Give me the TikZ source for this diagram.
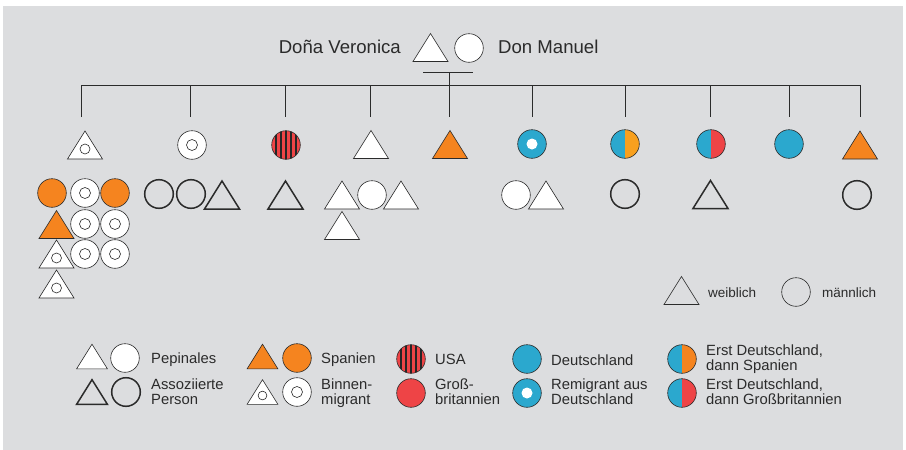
\documentclass[tikz,border=0pt]{standalone}
\usepackage{fontspec}
\setmainfont{Liberation Sans}
\definecolor{bg}{HTML}{DCDDDF}
\definecolor{ink}{HTML}{2B2B2B}
\definecolor{org}{HTML}{F5841F}
\definecolor{orgl}{HTML}{F8A01E}
\definecolor{blu}{HTML}{2BA8CE}
\definecolor{rd}{HTML}{EE4446}
\tikzset{
  every node/.style={inner sep=0pt, text=ink},
  conn/.style={draw=ink, line width=0.9pt},
  pep/.style={draw=ink, line width=0.6pt, fill=white},
  assoc/.style={draw=ink, line width=1.5pt},
  spain/.style={draw=ink, line width=0.6pt, fill=org},
  lbl/.style={font=\fontsize{14.8}{14.5}\selectfont, anchor=base west, align=left},
  small/.style={scale=0.88},
  tri/.pic={\path[pic actions] (-17.5,14) -- (17.5,14) -- (0,-14) -- cycle;},
  circ/.pic={\path[pic actions] (0,0) circle[radius=14.3pt];},
  tribin/.pic={\path[draw=ink, line width=0.6pt, fill=white] (-17.5,14) -- (17.5,14) -- (0,-14) -- cycle;
               \path[draw=ink, line width=0.6pt] (0,4) circle[radius=5pt];},
  donut/.pic={\path[draw=ink, line width=0.6pt, fill=white] (0,0) circle[radius=14.3pt];
              \path[draw=ink, line width=0.6pt] (0,0) circle[radius=5.5pt];},
  usa/.pic={\fill[rd] (0,0) circle[radius=14.3pt];
            \begin{scope}
              \clip (0,0) circle[radius=14.3pt];
              \foreach \s in {-10,-5,0,5,10} {\fill[black!85] (\s-1,-15) rectangle (\s+1,15);}
            \end{scope}
            \draw[ink, line width=0.6pt] (0,0) circle[radius=14.3pt];},
  gb/.pic={\path[fill=rd, draw=ink, line width=0.6pt] (0,0) circle[radius=14.3pt];},
  de/.pic={\path[fill=blu, draw=ink, line width=0.6pt] (0,0) circle[radius=14.3pt];},
  remi/.pic={\path[fill=blu, draw=ink, line width=0.6pt] (0,0) circle[radius=14.3pt];
             \fill[white] (0,0) circle[radius=5.5pt];},
  halfbo/.pic={\fill[blu] (0,-14.3) arc[start angle=90, end angle=270, radius=14.3pt] -- cycle;
               \fill[orgl] (0,-14.3) arc[start angle=90, end angle=-90, radius=14.3pt] -- cycle;
               \draw[ink, line width=0.6pt] (0,0) circle[radius=14.3pt];},
  halfbo2/.pic={\fill[blu] (0,-14.3) arc[start angle=90, end angle=270, radius=14.3pt] -- cycle;
               \fill[org] (0,-14.3) arc[start angle=90, end angle=-90, radius=14.3pt] -- cycle;
               \draw[ink, line width=0.6pt] (0,0) circle[radius=14.3pt];},
  halfbr/.pic={\fill[blu] (0,-14.3) arc[start angle=90, end angle=270, radius=14.3pt] -- cycle;
               \fill[rd] (0,-14.3) arc[start angle=90, end angle=-90, radius=14.3pt] -- cycle;
               \draw[ink, line width=0.6pt] (0,0) circle[radius=14.3pt];},
}
\begin{document}
\begin{tikzpicture}[x=1pt, y=-1pt]
\useasboundingbox (0,0) rectangle (906,450);
\fill[bg] (3,6) rectangle (903,450);

% parents
\pic[pep] (vero) at (430.5,47.5) {tri};
\pic[pep] (manu) at (469,48) {circ};
\node[font=\fontsize{18.6}{18}\selectfont, anchor=base east] (tv) at (401,53) {Doña Veronica};
\node[font=\fontsize{18.6}{18}\selectfont, anchor=base west] (tm) at (498,53) {Don Manuel};

% connectors
\coordinate (ml) at (423,72);
\coordinate (mr) at (473,72);
\coordinate (mm) at (449,72);
\draw[conn] (ml) -- (mr);
\foreach \i/\x in {1/81,2/190,3/285,4/370,5/449,6/532,7/625,8/710,9/789,10/860} {
  \coordinate (b\i) at (\x,85);
  \coordinate (k\i) at (\x,117);
}
\draw[conn] (k1) -- (b1) -- (b10) -- (k10);
\foreach \i in {2,3,4,6,7,8,9} {\draw[conn] (b\i) -- (k\i);}
\draw[conn] (mm) -- (k5);

% children row
\pic (c1) at (85,145) {tribin};
\pic (c2) at (192,145) {donut};
\pic (c3) at (286,145) {usa};
\pic[pep] (c4) at (371,144.5) {tri};
\pic[spain] (c5) at (450,144.5) {tri};
\pic (c6) at (532,144) {remi};
\pic (c7) at (625,144) {halfbo};
\pic (c8) at (711,144) {halfbr};
\pic (c9) at (789,144) {de};
\pic[spain] (c10) at (860,145) {tri};

% group 1
\pic[spain] (g1a) at (52,193) {circ};
\pic (g1b) at (85,193) {donut};
\pic[spain] (g1c) at (115,193) {circ};
\pic[spain] (g1d) at (56.5,224.5) {tri};
\pic (g1e) at (85,224) {donut};
\pic (g1f) at (115,224) {donut};
\pic (g1g) at (56.5,254) {tribin};
\pic (g1h) at (85,254) {donut};
\pic (g1i) at (115,254) {donut};
\pic (g1j) at (56.5,284) {tribin};

% group 2
\pic[assoc] (g2a) at (159,194) {circ};
\pic[assoc] (g2b) at (191,194) {circ};
\pic[assoc] (g2c) at (222,195) {tri};
% group 3
\pic[assoc] (g3a) at (285.5,195) {tri};
% group 4
\pic[pep] (g4a) at (342,195) {tri};
\pic[pep] (g4b) at (372,195) {circ};
\pic[pep] (g4c) at (401,195) {tri};
\pic[pep] (g4d) at (342,225.5) {tri};
% group 6
\pic[pep] (g6a) at (516,195) {circ};
\pic[pep] (g6b) at (546,195) {tri};
% group 7, 8, 10
\pic[assoc] (g7a) at (625,194) {circ};
\pic[assoc] (g8a) at (710.5,194.5) {tri};
\pic[assoc] (g10a) at (857,195) {circ};

% sex legend
\pic[draw=ink, line width=0.6pt] (lw) at (681.5,290.5) {tri};
\node[font=\fontsize{13.5}{13.5}\selectfont, anchor=base west] (tw) at (708,297) {weiblich};
\pic[draw=ink, line width=0.6pt] (lm) at (796,292) {circ};
\node[font=\fontsize{13.5}{13.5}\selectfont, anchor=base west] (tmm) at (822,297) {männlich};

% bottom legend
\pic[pep, small] (l1a) at (92,356.5) {tri};
\pic[pep] (l1b) at (125,358) {circ};
\node[lbl] (t1) at (151,363) {Pepinales};
\pic[assoc, small] (l2a) at (92,392) {tri};
\pic[assoc] (l2b) at (126,392) {circ};
\node[lbl] (t2) at (151,404) {Assoziierte\\Person};

\pic[spain, small] (l3a) at (262.5,356.5) {tri};
\pic[spain] (l3b) at (297,358) {circ};
\node[lbl] (t3) at (321,363) {Spanien};
\pic[small] (l4a) at (262.5,392) {tribin};
\pic (l4b) at (297,392) {donut};
\node[lbl] (t4) at (321,404) {Binnen-\\migrant};

\pic (l5) at (411,359) {usa};
\node[lbl] (t5) at (435,364) {USA};
\pic (l6) at (411,393) {gb};
\node[lbl] (t6) at (435,404) {Groß-\\britannien};

\pic (l7) at (527,359) {de};
\node[lbl] (t7) at (551,365) {Deutschland};
\pic (l8) at (527,393) {remi};
\node[lbl] (t8) at (551,404) {Remigrant aus\\Deutschland};

\pic (l9) at (682,359) {halfbo2};
\node[lbl] (t9) at (706,370) {Erst Deutschland,\\dann Spanien};
\pic (l10) at (682,393) {halfbr};
\node[lbl] (t10) at (706,404) {Erst Deutschland,\\dann Großbritannien};
\end{tikzpicture}
\end{document}
